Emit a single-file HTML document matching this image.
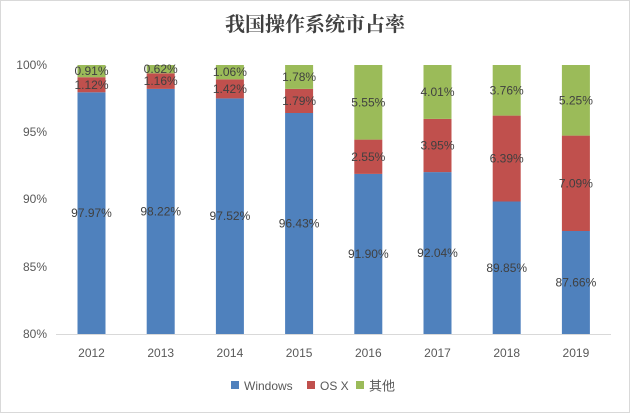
<!DOCTYPE html>
<html><head><meta charset="utf-8"><style>
body{margin:0;background:#fff}
svg text{font-family:"Liberation Sans","Noto Sans CJK SC",sans-serif}
</style></head><body>
<svg width="630" height="413" xmlns="http://www.w3.org/2000/svg">
<rect x="0.5" y="0.5" width="629" height="412" fill="#fff" stroke="#d9d9d9"/>
<text x="315" y="31" text-anchor="middle" font-size="20" font-weight="bold" fill="#404040" style="font-family:'Noto Serif CJK SC',serif">我国操作系统市占率</text>
<g font-size="12" fill="#595959" text-anchor="end" dominant-baseline="central">
<text x="47" y="65">100%</text><text x="47" y="132">95%</text><text x="47" y="199">90%</text><text x="47" y="267">85%</text><text x="47" y="334">80%</text>
</g>
<g>
<rect x="77.5" y="92.3" width="28" height="241.7" fill="#4f81bd"/><rect x="77.5" y="77.2" width="28" height="15.1" fill="#c0504d"/><rect x="77.5" y="65" width="28" height="12.2" fill="#9bbb59"/>
<rect x="146.7" y="88.9" width="28" height="245.1" fill="#4f81bd"/><rect x="146.7" y="73.3" width="28" height="15.6" fill="#c0504d"/><rect x="146.7" y="65" width="28" height="8.3" fill="#9bbb59"/>
<rect x="215.9" y="98.4" width="28" height="235.6" fill="#4f81bd"/><rect x="215.9" y="79.3" width="28" height="19.1" fill="#c0504d"/><rect x="215.9" y="65" width="28" height="14.3" fill="#9bbb59"/>
<rect x="285.1" y="113" width="28" height="221" fill="#4f81bd"/><rect x="285.1" y="88.9" width="28" height="24.1" fill="#c0504d"/><rect x="285.1" y="65" width="28" height="23.9" fill="#9bbb59"/>
<rect x="354.3" y="173.9" width="28" height="160.1" fill="#4f81bd"/><rect x="354.3" y="139.6" width="28" height="34.3" fill="#c0504d"/><rect x="354.3" y="65" width="28" height="74.6" fill="#9bbb59"/>
<rect x="423.5" y="172.1" width="28" height="161.9" fill="#4f81bd"/><rect x="423.5" y="118.9" width="28" height="53.2" fill="#c0504d"/><rect x="423.5" y="65" width="28" height="53.9" fill="#9bbb59"/>
<rect x="492.7" y="201.5" width="28" height="132.5" fill="#4f81bd"/><rect x="492.7" y="115.6" width="28" height="85.9" fill="#c0504d"/><rect x="492.7" y="65" width="28" height="50.6" fill="#9bbb59"/>
<rect x="561.9" y="231" width="28" height="103" fill="#4f81bd"/><rect x="561.9" y="135.6" width="28" height="95.4" fill="#c0504d"/><rect x="561.9" y="65" width="28" height="70.6" fill="#9bbb59"/>
</g>
<line x1="56" y1="334.5" x2="611" y2="334.5" stroke="#d9d9d9"/>
<g font-size="12" fill="#404040" text-anchor="middle" dominant-baseline="central">
<text x="91.5" y="213">97.97%</text><text x="160.7" y="211.5">98.22%</text><text x="229.9" y="216">97.52%</text><text x="299.1" y="223.5">96.43%</text><text x="368.3" y="254">91.90%</text><text x="437.5" y="253">92.04%</text><text x="506.7" y="268">89.85%</text><text x="575.9" y="282.5">87.66%</text>
<text x="91.5" y="85">1.12%</text><text x="160.7" y="81">1.16%</text><text x="229.9" y="89">1.42%</text><text x="299.1" y="101">1.79%</text><text x="368.3" y="157">2.55%</text><text x="437.5" y="145.5">3.95%</text><text x="506.7" y="158.6">6.39%</text><text x="575.9" y="183.3">7.09%</text>
<text x="91.5" y="71">0.91%</text><text x="160.7" y="69">0.62%</text><text x="229.9" y="72">1.06%</text><text x="299.1" y="77">1.78%</text><text x="368.3" y="102.3">5.55%</text><text x="437.5" y="92">4.01%</text><text x="506.7" y="90.3">3.76%</text><text x="575.9" y="100.3">5.25%</text>
</g>
<g font-size="12" fill="#595959" text-anchor="middle" dominant-baseline="central">
<text x="91.5" y="353">2012</text><text x="160.7" y="353">2013</text><text x="229.9" y="353">2014</text><text x="299.1" y="353">2015</text><text x="368.3" y="353">2016</text><text x="437.5" y="353">2017</text><text x="506.7" y="353">2018</text><text x="575.9" y="353">2019</text>
</g>
<g font-size="12" fill="#595959" dominant-baseline="central">
<rect x="231" y="381" width="8" height="8" fill="#4f81bd"/><text x="244" y="386">Windows</text>
<rect x="307" y="381" width="8" height="8" fill="#c0504d"/><text x="320" y="386">OS X</text>
<rect x="356" y="381" width="8" height="8" fill="#9bbb59"/><text x="369" y="386" font-size="13">其他</text>
</g>
</svg>
</body></html>
